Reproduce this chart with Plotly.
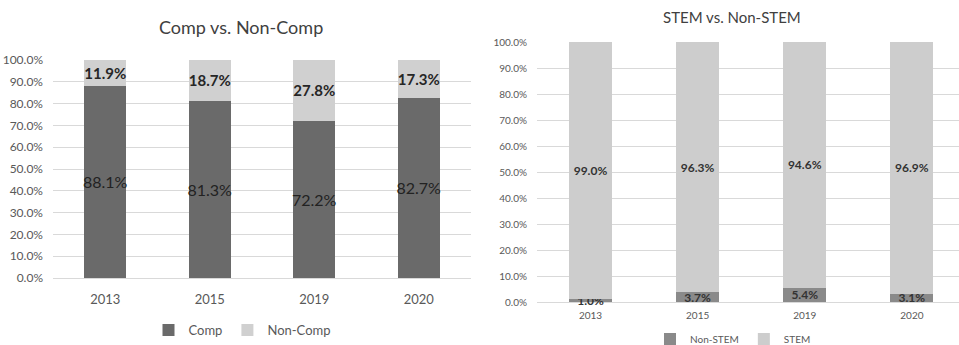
import plotly.graph_objects as go

years = ["2013", "2015", "2019", "2020"]
comp = [88.1, 81.3, 72.2, 82.7]
non_comp = [11.9, 18.7, 27.8, 17.3]
non_stem = [1.0, 3.7, 5.4, 3.1]
stem = [99.0, 96.3, 94.6, 96.9]

W, H = 959, 345
FONT = "Lato, Open Sans, sans-serif"

def px_x(p):
    return p / W

def px_y(p):
    return 1 - p / H

fig = go.Figure()

def lab(vals, bold=False):
    if bold:
        return [f"<b>{v:.1f}%</b>" for v in vals]
    return [f"{v:.1f}%" for v in vals]

common = dict(textposition="inside", insidetextanchor="middle", textangle=0,
              constraintext="none", width=0.4, marker_line_width=0)

fig.add_trace(go.Bar(x=years, y=comp, name="Comp", marker_color="#6a6a6a",
                     text=lab(comp), textfont=dict(size=16, color="#222222", family=FONT),
                     xaxis="x", yaxis="y", legend="legend", **common))
fig.add_trace(go.Bar(x=years, y=non_comp, name="Non-Comp", marker_color="#d0d0d0",
                     text=lab(non_comp, True), textfont=dict(size=15, color="#262626", family=FONT),
                     xaxis="x", yaxis="y", legend="legend", **common))
fig.add_trace(go.Bar(x=years, y=non_stem, name="Non-STEM", marker_color="#8a8a8a",
                     text=lab(non_stem, True), cliponaxis=False,
                     textfont=dict(size=12, color="#333333", family=FONT),
                     xaxis="x2", yaxis="y2", legend="legend2", **common))
fig.add_trace(go.Bar(x=years, y=stem, name="STEM", marker_color="#cdcdcd",
                     text=lab(stem, True), textfont=dict(size=12, color="#333333", family=FONT),
                     xaxis="x2", yaxis="y2", legend="legend2", **common))

grid = "#d9d9d9"
tickc = "#595959"

fig.update_layout(
    width=W, height=H, barmode="stack",
    margin=dict(l=0, r=0, t=0, b=0, autoexpand=False),
    paper_bgcolor="white", plot_bgcolor="white",
    font=dict(family=FONT, color=tickc),
    xaxis=dict(domain=[px_x(53), px_x(471)], range=[-0.5, 3.5], showgrid=False,
               ticks="", tickfont=dict(size=13, color=tickc), ticklabelstandoff=12,
               anchor="y", automargin=False),
    yaxis=dict(domain=[px_y(278), px_y(60)], range=[0, 100], dtick=10,
               tickformat=".1f", ticksuffix="%", gridcolor=grid, gridwidth=1,
               zeroline=True, zerolinecolor=grid, zerolinewidth=1,
               ticks="", tickfont=dict(size=12, color=tickc), ticklabelstandoff=9,
               anchor="x", automargin=False),
    xaxis2=dict(domain=[px_x(537), 1.0], range=[-0.5, 3.44], showgrid=False,
                ticks="", tickfont=dict(size=10, color=tickc), ticklabelstandoff=6,
                anchor="y2", automargin=False),
    yaxis2=dict(domain=[px_y(302), px_y(42)], range=[0, 100], dtick=10,
                tickformat=".1f", ticksuffix="%", gridcolor=grid, gridwidth=1,
                zeroline=True, zerolinecolor=grid, zerolinewidth=1,
                ticks="", tickfont=dict(size=10, color=tickc), ticklabelstandoff=9,
                anchor="x2", automargin=False),
    legend=dict(orientation="h", x=px_x(242), xanchor="center", y=px_y(330),
                yanchor="middle", font=dict(size=13, color=tickc), itemwidth=30,
                traceorder="normal", bgcolor="rgba(0,0,0,0)"),
    legend2=dict(orientation="h", x=px_x(733), xanchor="center", y=px_y(339),
                 yanchor="middle", font=dict(size=10, color=tickc), itemwidth=30,
                 traceorder="normal", bgcolor="rgba(0,0,0,0)"),
    annotations=[
        dict(text="Comp vs. Non-Comp", x=px_x(241), y=px_y(27), xref="paper", yref="paper",
             showarrow=False, xanchor="center", yanchor="middle",
             font=dict(size=18, color="#404040", family=FONT)),
        dict(text="STEM vs. Non-STEM", x=px_x(732), y=px_y(17), xref="paper", yref="paper",
             showarrow=False, xanchor="center", yanchor="middle",
             font=dict(size=15, color="#404040", family=FONT)),
    ],
)

fig.write_html("out.html",
               post_script="document.body.style.margin='0';document.documentElement.style.overflow='hidden';")
